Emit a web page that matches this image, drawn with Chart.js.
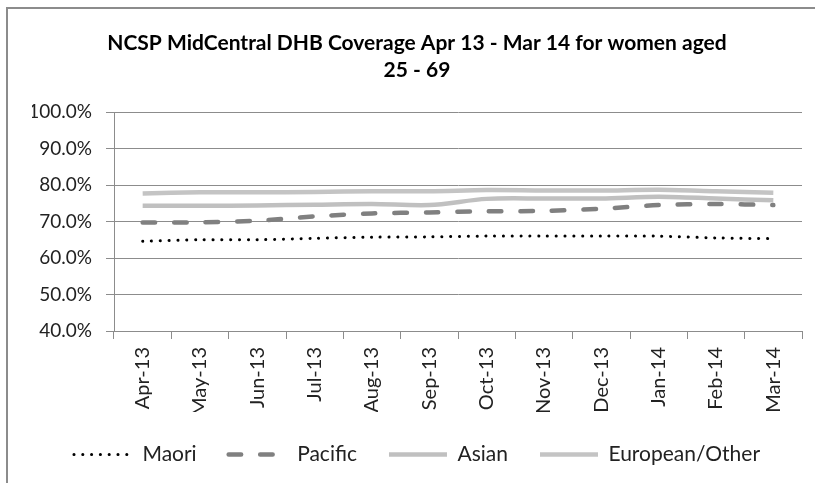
<!DOCTYPE html>
<html>
<head>
<meta charset="utf-8">
<script src="https://cdn.jsdelivr.net/npm/chart.js@4"></script>
<style>
html,body{margin:0;padding:0;background:#fff;overflow:hidden;width:815px;height:483px;}
#clip{position:absolute;left:0;top:0;width:815px;height:483px;overflow:hidden;}
#frame{position:absolute;left:6px;top:7px;width:840px;height:500px;border:2px solid #8c8c8c;box-sizing:border-box;}
#wrap{position:absolute;left:0;top:0;width:815px;height:483px;}
</style>
</head>
<body>
<div id="clip">
<div id="frame"></div>
<div id="wrap"><canvas id="c" width="815" height="483"></canvas></div>
</div>
<script>
const categories = ["Apr-13","May-13","Jun-13","Jul-13","Aug-13","Sep-13","Oct-13","Nov-13","Dec-13","Jan-14","Feb-14","Mar-14"];
const maori    = [64.6, 65.0, 65.0, 65.4, 65.7, 65.8, 66.0, 66.0, 66.0, 66.0, 65.5, 65.3];
const pacific  = [69.7, 69.8, 70.2, 71.4, 72.2, 72.5, 72.8, 72.9, 73.5, 74.5, 74.8, 74.5];
const asian    = [74.3, 74.3, 74.4, 74.6, 74.8, 74.5, 76.2, 76.3, 76.3, 76.8, 76.3, 75.8];
const european = [77.7, 78.0, 78.0, 78.1, 78.3, 78.3, 78.6, 78.5, 78.5, 78.7, 78.3, 77.9];
const yTicks = [40, 50, 60, 70, 80, 90, 100];

const FONT = "Lato, 'Open Sans', sans-serif";
new Chart(document.getElementById('c'), {
  type: 'line',
  data: {
    labels: categories,
    datasets: [
      {label:'Maori', data: maori, borderColor:'#000000', backgroundColor:'#000000', borderWidth:3, borderDash:[0.1,8.7], borderCapStyle:'round', pointRadius:0, tension:0.3},
      {label:'Pacific', data: pacific, borderColor:'#808080', backgroundColor:'#808080', borderWidth:4.5, borderDash:[12.5,19], borderCapStyle:'round', pointRadius:0, tension:0.3},
      {label:'Asian', data: asian, borderColor:'#c0c0c0', backgroundColor:'#c0c0c0', borderWidth:4.5, pointRadius:0, tension:0.3},
      {label:'European/Other', data: european, borderColor:'#c4c4c4', backgroundColor:'#c4c4c4', borderWidth:4.5, pointRadius:0, tension:0.3}
    ]
  },
  options: {
    responsive:false,
    animation:false,
    layout:{padding:{left:32, right:13, top:0, bottom:8}},
    plugins:{
      title:{display:true, text:['NCSP MidCentral DHB Coverage Apr 13 - Mar 14 for women aged','25 - 69'], color:'#000', font:{family:FONT, size:21, weight:'bold', lineHeight:1.286}, padding:{top:29.5, bottom:28.5}},
      legend:{position:'bottom', align:'center', labels:{
        color:'#222', font:{family:FONT, size:21}, usePointStyle:true, pointStyle:'line', pointStyleWidth:58, boxWidth:58, boxHeight:4, padding:32,
        generateLabels: chart => Chart.defaults.plugins.legend.labels.generateLabels(chart).map(item => {
          const ds = chart.data.datasets[item.datasetIndex];
          return Object.assign(item, {
            lineDash: ds.borderDash || [],
            lineCap: ds.borderCapStyle || 'butt',
            lineWidth: ds.borderWidth,
            strokeStyle: ds.borderColor,
            fillStyle: ds.borderColor,
            pointStyle: 'line'
          });
        })
      }},
      tooltip:{enabled:false}
    },
    scales:{
      x:{
        offset:true,
        afterFit: s => { s.height = 81; },
        grid:{drawOnChartArea:false, offset:true, color:'#8c8c8c', tickLength:8},
        border:{color:'#8c8c8c', width:1},
        ticks:{color:'#222', font:{family:FONT, size:20}, minRotation:90, maxRotation:90, padding:8}
      },
      y:{
        min:40, max:100,
        afterFit: s => { s.width = 82; },
        afterBuildTicks: ax => { ax.ticks = yTicks.map(v => ({value:v})); },
        grid:{color:'#8c8c8c', tickLength:8},
        border:{color:'#8c8c8c', width:1},
        ticks:{color:'#222', font:{family:FONT, size:19}, padding:14, callback: v => Number(v).toFixed(1) + '%'}
      }
    }
  }
});
</script>
</body>
</html>
